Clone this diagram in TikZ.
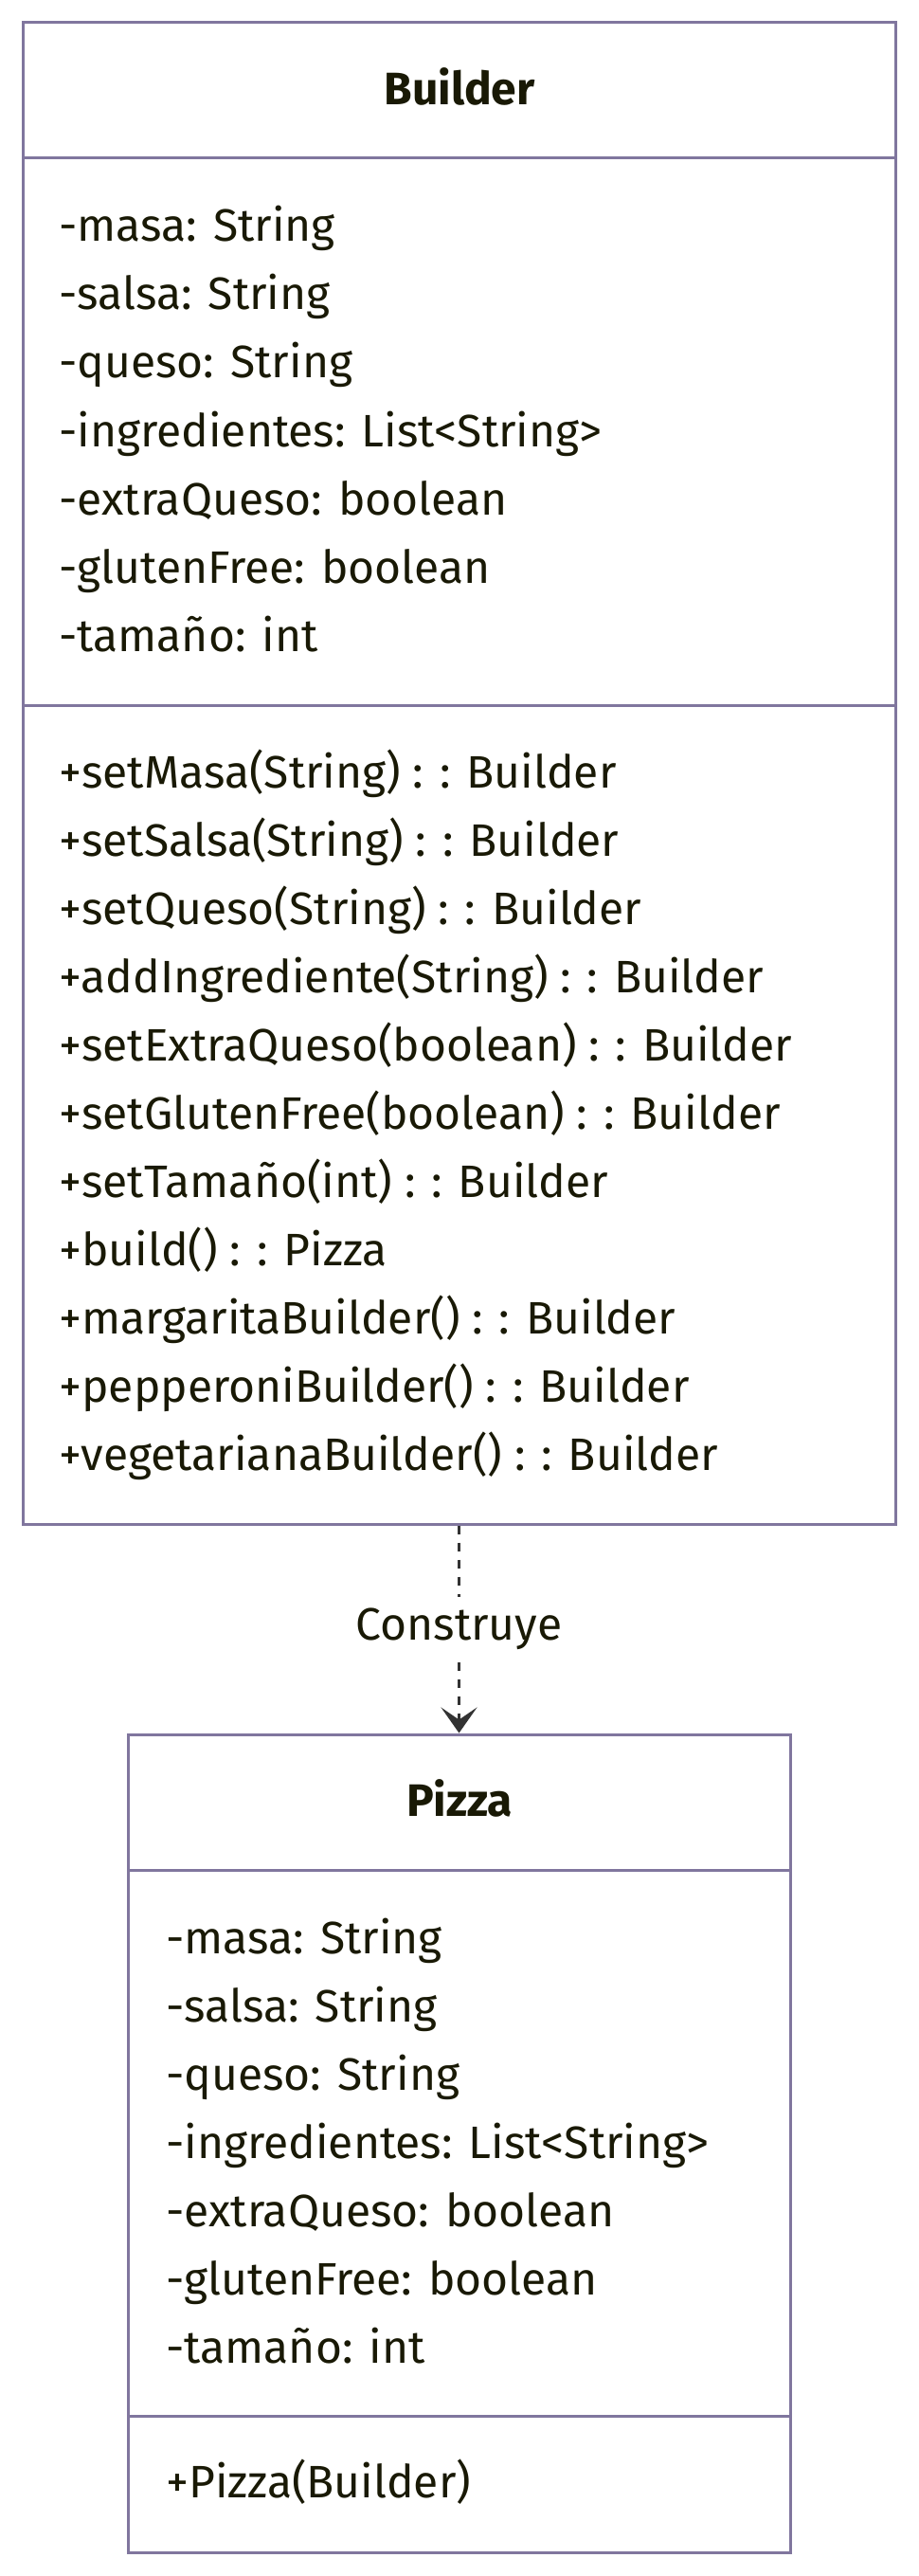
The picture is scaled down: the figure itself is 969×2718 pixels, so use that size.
\documentclass[tikz,border=0pt]{standalone}
\usepackage{fontspec}
\setmainfont{Fira Sans}
\usetikzlibrary{arrows.meta,calc}
\definecolor{umlborder}{RGB}{128,118,158}
\definecolor{umltext}{RGB}{25,25,5}
\definecolor{deparrow}{RGB}{51,51,51}

\begin{document}
\begin{tikzpicture}[x=0.5pt,y=-0.5pt, every node/.style={font=\fontsize{24}{29}\selectfont, text=umltext},
    classbox/.style={draw=umlborder, line width=1.5pt, fill=white, inner sep=0pt},
    sepline/.style={draw=umlborder, line width=1.5pt},
    member/.style={anchor=base west, inner sep=0pt},
    title/.style={anchor=base, inner sep=0pt, font=\fontsize{24}{29}\selectfont\bfseries}]
    \useasboundingbox (0,0) rectangle (969,2718);
    % class boxes
    \node[classbox, minimum width=460.5pt, minimum height=792pt] (builder) at (484.5,816) {};
    \node[classbox, minimum width=349.5pt, minimum height=431.5pt] (pizza) at (484.5,2261.5) {};
    \draw[sepline] (24,167) -- (945,167);
    \draw[sepline] (24,744) -- (945,744);
    \draw[sepline] (135,1973) -- (834,1973);
    \draw[sepline] (135,2549) -- (834,2549);
    % Builder
    \node[title] (bTitle) at (485,111) {Builder};
    \node[member] (bMasa) at (62,255) {-masa: String};
    \node[member] (bSalsa) at (62,327) {-salsa: String};
    \node[member] (bQueso) at (62,399) {-queso: String};
    \node[member] (bIngr) at (62,471) {-ingredientes: List<String>};
    \node[member] (bExtra) at (62,543) {-extraQueso: boolean};
    \node[member] (bGluten) at (62,615) {-glutenFree: boolean};
    \node[member] (bTam) at (62,687) {-tamaño: int};
    \node[member] (bSetMasa) at (62,831) {+setMasa(String) : : Builder};
    \node[member] (bSetSalsa) at (62,903) {+setSalsa(String) : : Builder};
    \node[member] (bSetQueso) at (62,975) {+setQueso(String) : : Builder};
    \node[member] (bAddIngr) at (62,1047) {+addIngrediente(String) : : Builder};
    \node[member] (bSetExtra) at (62,1119) {+setExtraQueso(boolean) : : Builder};
    \node[member] (bSetGluten) at (62,1191) {+setGlutenFree(boolean) : : Builder};
    \node[member] (bSetTam) at (62,1263) {+setTamaño(int) : : Builder};
    \node[member] (bBuild) at (62,1335) {+build() : : Pizza};
    \node[member] (bMarg) at (62,1407) {+margaritaBuilder() : : Builder};
    \node[member] (bPepp) at (62,1479) {+pepperoniBuilder() : : Builder};
    \node[member] (bVeg) at (62,1551) {+vegetarianaBuilder() : : Builder};
    % Pizza
    \node[title] (pTitle) at (485,1916) {Pizza};
    \node[member] (pMasa) at (175,2061) {-masa: String};
    \node[member] (pSalsa) at (175,2133) {-salsa: String};
    \node[member] (pQueso) at (175,2205) {-queso: String};
    \node[member] (pIngr) at (175,2277) {-ingredientes: List<String>};
    \node[member] (pExtra) at (175,2349) {-extraQueso: boolean};
    \node[member] (pGluten) at (175,2421) {-glutenFree: boolean};
    \node[member] (pTam) at (175,2493) {-tamaño: int};
    \node[member] (pCtor) at (175,2635) {+Pizza(Builder)};
    % dependency
    \draw[deparrow, line width=1.5pt, dash pattern=on 4.5pt off 4.5pt, -{Stealth[length=13.5pt, width=19pt, inset=6.5pt]}]
        (builder.south) -- node[fill=white, inner sep=2pt, minimum height=34pt] (construye) {Construye} (pizza.north);
\end{tikzpicture}
\end{document}
